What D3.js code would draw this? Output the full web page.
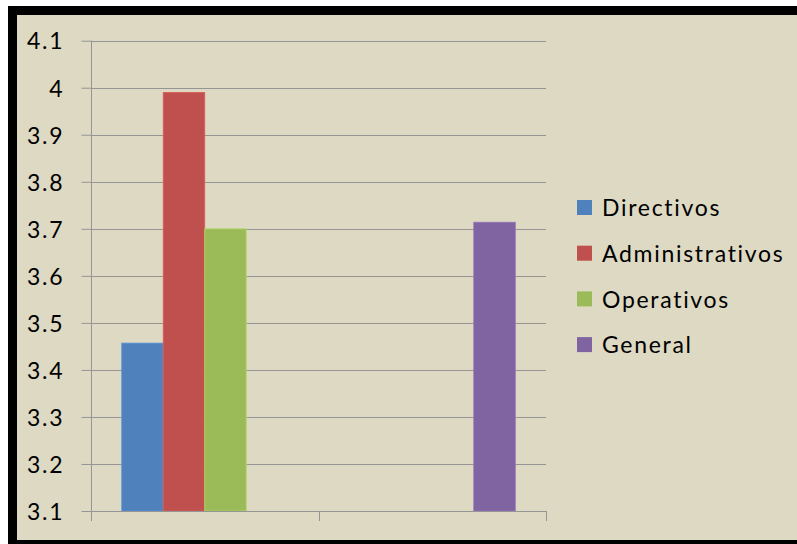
<!DOCTYPE html>
<html>
<head>
<meta charset="utf-8">
<script src="https://cdn.jsdelivr.net/npm/d3@7"></script>
<style>
  html, body { margin: 0; padding: 0; background: #ffffff; }
  svg { display: block; }
  text { font-variant-ligatures: none; font-feature-settings: "liga" 0, "clig" 0; }
</style>
</head>
<body>
<svg id="chart" width="797" height="544"></svg>
<script>
// Chart data
const categories = ["1", "2"];
const seriesNames = ["Directivos", "Administrativos", "Operativos", "General"];
const directivos = [3.457, null];
const administrativos = [3.99, null];
const operativos = [3.70, null];
const general = [null, 3.714];
const yTicks = [3.1, 3.2, 3.3, 3.4, 3.5, 3.6, 3.7, 3.8, 3.9, 4, 4.1];
const seriesColors = ["#4f81bd", "#c0504d", "#9bbb59", "#8064a2"];

const seriesValues = [directivos, administrativos, operativos, general];

const svg = d3.select("#chart");
const W = 797, H = 544;
const fontFamily = "Lato, 'Open Sans', sans-serif";

// Frame: white margin, thick black border, beige chart area
svg.append("rect").attr("x", 0).attr("y", 0).attr("width", W).attr("height", H).attr("fill", "#ffffff");
svg.append("rect").attr("x", 8).attr("y", 6).attr("width", W - 8).attr("height", H - 6).attr("fill", "#000000");
svg.append("rect").attr("x", 17).attr("y", 15).attr("width", W - 17).attr("height", 525).attr("fill", "#ddd9c3");

const plot = { left: 91, right: 546, top: 40.7, bottom: 511 };
const gridColor = "#959595";

const y = d3.scaleLinear().domain([3.1, 4.1]).range([plot.bottom, plot.top]);
const x0 = d3.scaleBand().domain(categories).range([plot.left, plot.right]).paddingInner(0).paddingOuter(0);
const x1 = d3.scaleBand().domain(seriesNames).range([0, x0.bandwidth()]).paddingInner(0).paddingOuter(0.74);

// Horizontal gridlines
svg.append("g")
  .selectAll("line")
  .data(yTicks.slice(1))
  .join("line")
  .attr("x1", plot.left).attr("x2", plot.right)
  .attr("y1", d => Math.round(y(d)) + 0.5).attr("y2", d => Math.round(y(d)) + 0.5)
  .attr("stroke", gridColor).attr("stroke-width", 1);

// Bars
const rows = [];
categories.forEach((c, ci) => {
  seriesNames.forEach((s, si) => {
    const v = seriesValues[si][ci];
    if (v !== null) rows.push({ c, s, v, color: seriesColors[si] });
  });
});

svg.append("g")
  .selectAll("rect")
  .data(rows)
  .join("rect")
  .attr("x", d => x0(d.c) + x1(d.s))
  .attr("y", d => y(d.v))
  .attr("width", x1.bandwidth())
  .attr("height", d => y(3.1) - y(d.v))
  .attr("fill", d => d.color)
  .attr("stroke", d => d3.color(d.color).brighter(0.4))
  .attr("stroke-width", 0.8);

// Y axis
const yAxis = d3.axisLeft(y)
  .tickValues(yTicks)
  .tickFormat(d3.format("~g"))
  .tickSize(10)
  .tickPadding(17);

const gy = svg.append("g")
  .attr("transform", `translate(${plot.left + 0.5},0)`)
  .call(yAxis);
gy.select(".domain").attr("stroke", gridColor).attr("d", `M0,${plot.top}V${plot.bottom + 10}`);
gy.selectAll(".tick line").attr("stroke", gridColor);
gy.selectAll(".tick text")
  .attr("fill", "#000")
  .attr("font-family", fontFamily)
  .attr("font-size", 23)
  .attr("letter-spacing", 1.8)
  .attr("dy", "0.36em");

// X axis (category boundaries, no labels)
const xEdges = [plot.left, ...categories.map(c => x0(c) + x0.bandwidth())];
const gx = svg.append("g");
gx.append("line")
  .attr("x1", plot.left).attr("x2", plot.right)
  .attr("y1", plot.bottom + 0.5).attr("y2", plot.bottom + 0.5)
  .attr("stroke", gridColor);
gx.selectAll("line.tk")
  .data(xEdges)
  .join("line")
  .attr("class", "tk")
  .attr("x1", d => Math.round(d) + 0.5).attr("x2", d => Math.round(d) + 0.5)
  .attr("y1", plot.bottom).attr("y2", plot.bottom + 10)
  .attr("stroke", gridColor);

// Legend
const legend = svg.append("g").attr("transform", "translate(577,208)");
const item = legend.selectAll("g")
  .data(seriesNames)
  .join("g")
  .attr("transform", (d, i) => `translate(0,${i * 45.7})`);
item.append("rect")
  .attr("x", 0).attr("y", -8).attr("width", 15).attr("height", 15)
  .attr("fill", (d, i) => seriesColors[i]);
item.append("text")
  .attr("x", 25).attr("y", 0).attr("dy", "0.36em")
  .attr("font-family", fontFamily)
  .attr("font-size", 23)
  .attr("letter-spacing", 1.7)
  .attr("fill", "#000")
  .text(d => d);
</script>
</body>
</html>
